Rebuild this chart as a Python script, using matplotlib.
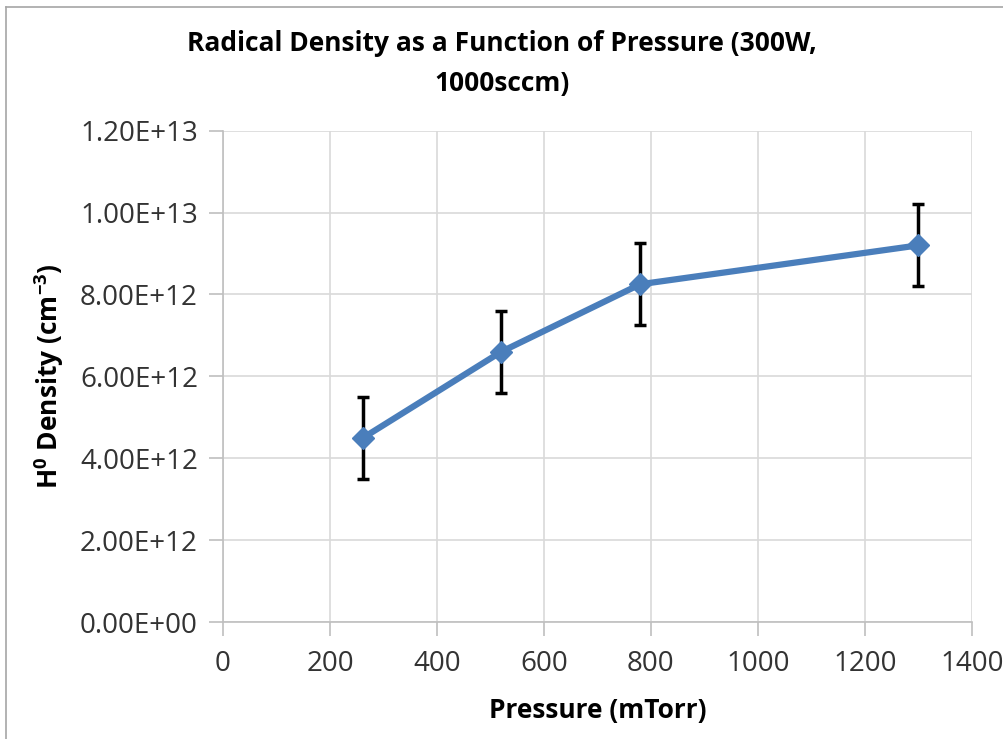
import matplotlib
matplotlib.use('Agg')
import matplotlib.pyplot as plt
from matplotlib.lines import Line2D

# Data
pressure = [262, 520, 780, 1300]          # mTorr
density = [4.50e12, 6.60e12, 8.25e12, 9.20e12]  # cm^-3
err = [1.0e12, 1.0e12, 1.0e12, 1.0e12]

x_ticks = [0, 200, 400, 600, 800, 1000, 1200, 1400]
y_ticks = [0, 2e12, 4e12, 6e12, 8e12, 1e13, 1.2e13]

plt.rcParams['font.family'] = ['Open Sans', 'DejaVu Sans']
plt.rcParams['mathtext.fontset'] = 'custom'
plt.rcParams['mathtext.rm'] = 'Open Sans'
plt.rcParams['mathtext.bf'] = 'Open Sans:bold'

fig = plt.figure(figsize=(10.04, 7.39), dpi=100)
ax = fig.add_axes([0.2221, 0.1583, 0.968 - 0.2221, 0.8231 - 0.1583])

grid_col = '#d9d9d9'
axis_col = '#bfbfbf'

ax.errorbar(pressure, density, yerr=err, fmt='none', ecolor='black',
            elinewidth=2.5, capsize=4, capthick=2.5, zorder=2)
ax.plot(pressure, density, color='#4a7ebb', lw=4.5, marker='D', ms=11,
        zorder=3)

ax.set_xlim(0, 1400)
ax.set_ylim(0, 1.2e13)
ax.set_xticks(x_ticks)
ax.set_yticks(y_ticks)
ax.set_yticklabels(['%.2E' % v for v in y_ticks])
ax.grid(True, color=grid_col, lw=1.2, zorder=0)
ax.set_axisbelow(True)

for s in ['top', 'right']:
    ax.spines[s].set_visible(False)
for s in ['left', 'bottom']:
    ax.spines[s].set_color(axis_col)
    ax.spines[s].set_linewidth(1.2)

ax.tick_params(axis='both', direction='out', length=10, width=1.2,
               color=axis_col, labelsize=20, labelcolor='#333333')
ax.tick_params(axis='x', pad=10)
ax.tick_params(axis='y', pad=8)

ax.set_xlabel('Pressure (mTorr)', fontsize=19, fontweight='bold', labelpad=14)
ax.set_ylabel(r'H$^{\mathbf{0}}$ Density (cm$^{\mathbf{-3}}$)', fontsize=19,
              fontweight='bold', labelpad=10)
fig.suptitle('Radical Density as a Function of Pressure (300W,\n1000sccm)',
             x=0.5, y=0.96, fontsize=19, fontweight='bold', linespacing=1.65)

# chart area border (left and top edges visible)
fig.add_artist(Line2D([0.006, 0.006], [0, 0.99], transform=fig.transFigure,
                      color='#a6a6a6', lw=1.2))
fig.add_artist(Line2D([0.006, 1.0], [0.99, 0.99], transform=fig.transFigure,
                      color='#a6a6a6', lw=1.2))

fig.savefig('out.png', dpi=100)
